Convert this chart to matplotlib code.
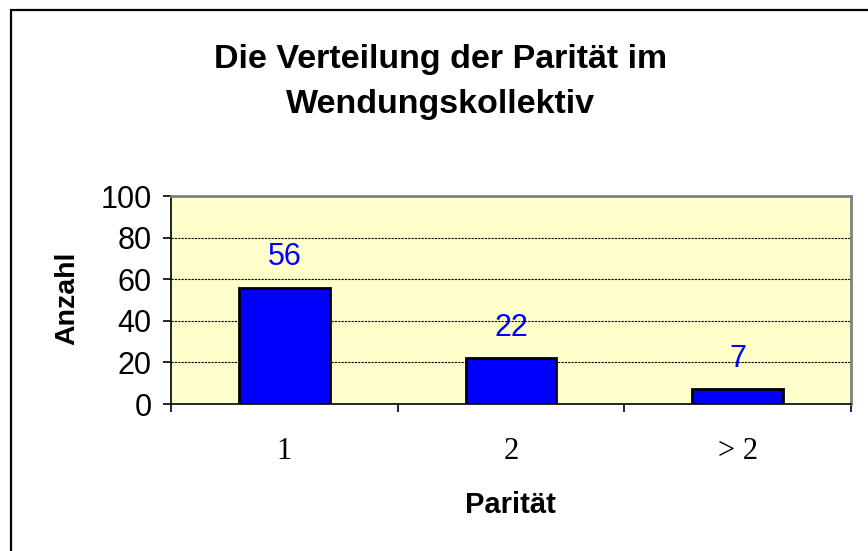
import matplotlib
matplotlib.use("Agg")
import matplotlib.pyplot as plt
from matplotlib.patches import Rectangle
import numpy as np

categories = ["1", "2", "> 2"]
counts = [56, 22, 7]
y_ticks = [0, 20, 40, 60, 80, 100]

title = "Die Verteilung der Parität im\nWendungskollektiv"
x_label = "Parität"
y_label = "Anzahl"

W, H = 868, 551
fig = plt.figure(figsize=(W / 100, H / 100), dpi=100)
fig.patch.set_facecolor("white")

# chart area border (cut off on right/bottom like the original)
fig.patches.append(Rectangle((11 / W, -0.1), 1.2, 1 - 10 / H + 0.1,
                             transform=fig.transFigure, fill=False,
                             edgecolor="black", lw=1.6))

ax = fig.add_axes([171 / W, 1 - 404 / H, (851 - 171) / W, (404 - 196) / H])
ax.set_facecolor("#FFFFCC")

x = np.arange(len(categories))
ax.bar(x, counts, width=0.4, color="#0000FF", edgecolor="black", linewidth=2.0, zorder=3)

for xi, v in zip(x, counts):
    ax.annotate(str(v), (xi, v), xytext=(0, 22), textcoords="offset points",
                ha="center", va="center", color="#0000FF",
                fontsize=22, family="Liberation Sans")

ax.set_xlim(-0.5, len(categories) - 0.5)
ax.set_ylim(0, 100)
ax.set_yticks(y_ticks)
ax.set_yticklabels([str(t) for t in y_ticks], fontsize=22, family="Liberation Sans")
ax.tick_params(axis="y", length=6, width=1.2, pad=8, direction="out")

ax.set_xticks(x)
ax.set_xticklabels(categories, fontsize=22, family="Liberation Serif")
ax.tick_params(axis="x", which="major", length=0, pad=24)
ax.set_xticks(np.arange(len(categories) + 1) - 0.5, minor=True)
ax.tick_params(axis="x", which="minor", length=6, width=1.2, direction="out")

ax.grid(axis="y", color="black", linestyle=(0, (2, 1)), linewidth=0.8, zorder=1)

for side in ["left", "bottom"]:
    ax.spines[side].set_color("black")
    ax.spines[side].set_linewidth(1.2)
for side in ["top", "right"]:
    ax.spines[side].set_color("#808080")
    ax.spines[side].set_linewidth(2.0)

fig.text(0.507, 1 - 82 / H, title, ha="center", va="center", fontsize=24.5,
         fontweight="bold", family="Liberation Sans", linespacing=1.55)
fig.text(0.5875, 1 - 505 / H, x_label, ha="center", va="center", fontsize=21,
         fontweight="bold", family="Liberation Sans")
fig.text(67 / W, 1 - 298 / H, y_label, ha="center", va="center", fontsize=20.5,
         fontweight="bold", family="Liberation Sans", rotation=90)

fig.savefig("out.png", dpi=100)
